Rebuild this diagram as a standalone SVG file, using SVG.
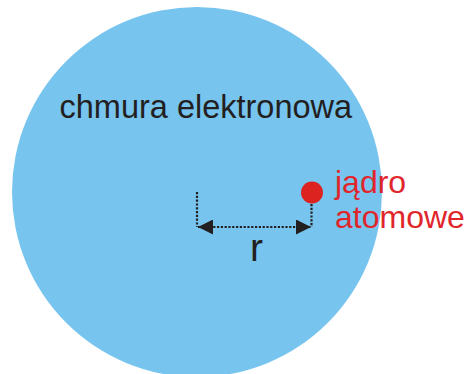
<svg xmlns="http://www.w3.org/2000/svg" width="467" height="374" viewBox="0 0 467 374">
<style>
.dash{fill:none;stroke:#231f20;stroke-width:2.2;stroke-dasharray:2.2 1.6}
.blk{font-family:"Liberation Sans",Arial,sans-serif;fill:#231f20}
.red{font-family:"Liberation Sans",Arial,sans-serif;fill:#e0262b}
</style>
<defs>
<marker id="ah" viewBox="0 0 10 10" refX="10" refY="5" markerWidth="15" markerHeight="15" markerUnits="userSpaceOnUse" orient="auto-start-reverse">
<path d="M0,0 L10,5 L0,10 Z" fill="#231f20"/>
</marker>
</defs>
<rect width="467" height="374" fill="#ffffff"/>
<g id="cloud">
<circle cx="197" cy="192" r="185" fill="#77c4ef"/>
<text class="blk" x="59.5" y="118" font-size="32.5">chmura elektronowa</text>
</g>
<g id="nucleus">
<circle cx="312" cy="192.5" r="11" fill="#dc2320"/>
<text class="red" x="335" y="192.5" font-size="32">jądro</text>
<text class="red" x="335" y="228" font-size="32">atomowe</text>
</g>
<g id="connectors">
<path class="dash" d="M197,192 V227"/>
<path class="dash" d="M311.5,204 V227"/>
<path class="dash" d="M198,227 H311" marker-start="url(#ah)" marker-end="url(#ah)"/>
</g>
<g id="radius-label">
<text class="blk" x="256.5" y="261" font-size="39" text-anchor="middle">r</text>
</g>
</svg>
